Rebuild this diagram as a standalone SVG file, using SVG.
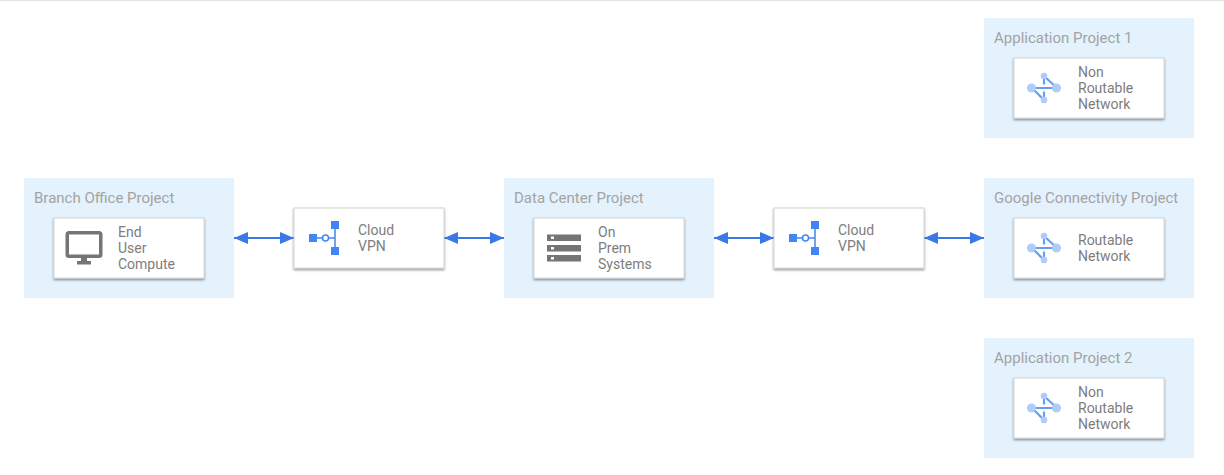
<svg xmlns="http://www.w3.org/2000/svg" width="1224" height="475" viewBox="0 0 1224 475">
<defs>
<filter id="sh" x="-10%" y="-15%" width="120%" height="135%"><feDropShadow dx="0" dy="1.500" stdDeviation="1.200" flood-color="#000" flood-opacity="0.450"/></filter>
<marker id="ah" viewBox="0 0 14 12" refX="14" refY="6" markerWidth="14" markerHeight="12" markerUnits="userSpaceOnUse" orient="auto-start-reverse"><path d="M0 0L14 6L0 12Z" fill="#3b78e7"/></marker>
<g id="net">
<path d="M-12 0H13M0 -12V-3.500M0 -12L13 0M0 12V3.500M0 12L-12 0" fill="none" stroke="#669df6" stroke-width="2.200"/>
<circle cx="-12.500" cy="0" r="4.500" fill="#aecbfa"/><circle cx="12.500" cy="0" r="4.500" fill="#aecbfa"/><circle cx="0" cy="-12" r="3.300" fill="#aecbfa"/><circle cx="0" cy="12" r="3.300" fill="#aecbfa"/>
</g>
<g id="vpn">
<path d="M317 238H322.500M328.500 238H335M335 225V251" fill="none" stroke="#4285f4" stroke-width="1.500"/>
<circle cx="325.500" cy="238" r="3" fill="#fff" stroke="#4285f4" stroke-width="1.500"/>
<rect x="309" y="234" width="8" height="8" fill="#4285f4"/><rect x="331" y="221" width="8" height="8" fill="#4285f4"/><rect x="331" y="247" width="8" height="8" fill="#4285f4"/>
</g>
</defs>
<style>
.zone{fill:#e3f2fd}
.zt{font:15px Roboto,"Liberation Sans",sans-serif;fill:#a3a3a3}
.card{fill:#fff;stroke:#d5d5d5;stroke-width:1;filter:url(#sh)}
.nt{font:14px Roboto,"Liberation Sans",sans-serif;fill:#7d7d7d}
.c{fill:none;stroke:#3b78e7;stroke-width:2;marker-start:url(#ah);marker-end:url(#ah)}
</style>
<rect width="1224" height="1" fill="#e3e3e3"/>
<g id="connectors">
<path class="c" d="M234 238H294"/><path class="c" d="M444 238H504"/><path class="c" d="M714 238H774"/><path class="c" d="M924 238H984"/>
</g>
<g id="app1"><rect class="zone" x="984" y="18" width="210" height="120"/><text class="zt" x="994" y="43">Application Project 1</text>
<rect class="card" x="1014" y="58" width="150" height="60"/><use href="#net" transform="translate(1044 88)"/>
<text class="nt" x="1078" y="77">Non</text><text class="nt" x="1078" y="93">Routable</text><text class="nt" x="1078" y="109">Network</text></g>
<g id="branch"><rect class="zone" x="24" y="178" width="210" height="120"/><text class="zt" x="34" y="203">Branch Office Project</text>
<rect class="card" x="54" y="218" width="150" height="60"/>
<path fill="#757575" fill-rule="evenodd" d="M69 231H99A3.500 3.500 0 0 1 102.500 234.500V254.500A3.500 3.500 0 0 1 99 258H69A3.500 3.500 0 0 1 65.500 254.500V234.500A3.500 3.500 0 0 1 69 231ZM69 234.500V254.500H99V234.500Z"/>
<path fill="#757575" d="M81 258H87V261H91V264.500H77V261H81Z"/>
<text class="nt" x="118" y="237">End</text><text class="nt" x="118" y="253">User</text><text class="nt" x="118" y="269">Compute</text></g>
<g id="vpn1"><rect class="card" x="294" y="208" width="150" height="60"/><use href="#vpn"/>
<text class="nt" x="358" y="235">Cloud</text><text class="nt" x="358" y="251">VPN</text></g>
<g id="dc"><rect class="zone" x="504" y="178" width="210" height="120"/><text class="zt" x="514" y="203">Data Center Project</text>
<rect class="card" x="534" y="218" width="150" height="60"/>
<path fill="#757575" fill-rule="evenodd" d="M547 234.500H581V241H547ZM551 236.500V239H554V236.500ZM547 245H581V251.500H547ZM551 247V249.500H554V247ZM547 255H581V261.500H547ZM551 257V259.500H554V257Z"/>
<text class="nt" x="598" y="237">On</text><text class="nt" x="598" y="253">Prem</text><text class="nt" x="598" y="269">Systems</text></g>
<g id="vpn2"><rect class="card" x="774" y="208" width="150" height="60"/><use href="#vpn" x="480"/>
<text class="nt" x="838" y="235">Cloud</text><text class="nt" x="838" y="251">VPN</text></g>
<g id="google"><rect class="zone" x="984" y="178" width="210" height="120"/><text class="zt" x="994" y="203">Google Connectivity Project</text>
<rect class="card" x="1014" y="218" width="150" height="60"/><use href="#net" transform="translate(1044 248)"/>
<text class="nt" x="1078" y="245">Routable</text><text class="nt" x="1078" y="261">Network</text></g>
<g id="app2"><rect class="zone" x="984" y="338" width="210" height="120"/><text class="zt" x="994" y="363">Application Project 2</text>
<rect class="card" x="1014" y="378" width="150" height="60"/><use href="#net" transform="translate(1044 408)"/>
<text class="nt" x="1078" y="397">Non</text><text class="nt" x="1078" y="413">Routable</text><text class="nt" x="1078" y="429">Network</text></g>
</svg>
